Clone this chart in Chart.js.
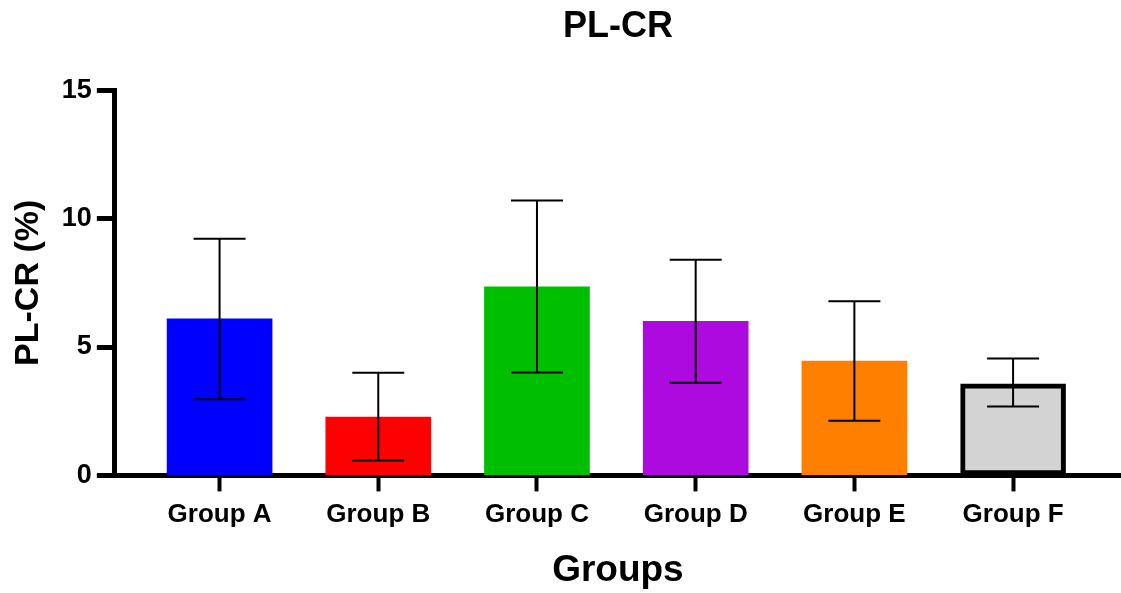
<!DOCTYPE html>
<html>
<head>
<meta charset="utf-8">
<script src="https://cdn.jsdelivr.net/npm/chart.js@4/dist/chart.umd.min.js"></script>
<style>
  body { margin: 0; background: #fff; }
  #wrap { width: 1121px; height: 593px; }
</style>
</head>
<body>
<div id="wrap"><canvas id="plcrChart"></canvas></div>
<script>
// values
const groups = ['Group A', 'Group B', 'Group C', 'Group D', 'Group E', 'Group F'];
const means = [6.10, 2.27, 7.34, 6.00, 4.45, 3.57];
const errHigh = [9.22, 4.00, 10.70, 8.40, 6.78, 4.55];
const errLow = [2.97, 0.58, 4.01, 3.61, 2.13, 2.68];
const yTicks = [0, 5, 10, 15];

const barColors = ['#0000FF', '#FF0000', '#00BE00', '#AD0ADF', '#FF8000', '#D3D3D3'];
const barBorders = [0, 0, 0, 0, 0, 5];

Chart.defaults.color = '#000';
Chart.defaults.font.family = '"Liberation Sans", Arial, sans-serif';
Chart.defaults.font.weight = 'bold';

// error bars with caps, drawn over the bars
const errorBars = {
  id: 'errorBars',
  afterDatasetsDraw(chart) {
    const ctx = chart.ctx;
    const xs = chart.scales.x;
    const ys = chart.scales.y;
    ctx.save();
    ctx.strokeStyle = '#000';
    ctx.lineWidth = 2;
    groups.forEach((g, i) => {
      const x = xs.getPixelForValue(i + 1);
      const yHi = ys.getPixelForValue(errHigh[i]);
      const yLo = ys.getPixelForValue(errLow[i]);
      const cap = 26;
      ctx.beginPath();
      ctx.moveTo(x, yHi);
      ctx.lineTo(x, yLo);
      ctx.moveTo(x - cap, yHi);
      ctx.lineTo(x + cap, yHi);
      ctx.moveTo(x - cap, yLo);
      ctx.lineTo(x + cap, yLo);
      ctx.stroke();
    });
    ctx.restore();
  }
};

const ctx = document.getElementById('plcrChart').getContext('2d');
const plcrChart = new Chart(ctx, {
  type: 'bar',
  data: {
    datasets: [{
      data: groups.map((g, i) => ({ x: i + 1, y: means[i] })),
      backgroundColor: barColors,
      borderColor: '#000',
      borderWidth: barBorders,
      borderSkipped: false,
      barThickness: 105
    }]
  },
  options: {
    responsive: true,
    maintainAspectRatio: false,
    animation: false,
    layout: { padding: { left: 8, right: 0, top: 0, bottom: 0 } },
    plugins: {
      legend: { display: false },
      tooltip: { enabled: false },
      title: {
        display: true,
        fullSize: false,
        text: 'PL-CR',
        font: { size: 36, weight: 'bold' },
        padding: { top: 5, bottom: 42 }
      }
    },
    scales: {
      x: {
        type: 'linear',
        min: 0.34,
        max: 6.68,
        offset: false,
        z: 1,
        grid: { display: true, offset: false, drawOnChartArea: false, drawTicks: true, tickLength: 16, tickWidth: 4, tickColor: '#000' },
        border: { display: true, color: '#000', width: 5 },
        afterBuildTicks: scale => { scale.ticks = groups.map((g, i) => ({ value: i + 1 })); },
        ticks: {
          font: { size: 26, weight: 'bold' },
          padding: 8,
          maxRotation: 0,
          autoSkip: false,
          callback: v => groups[v - 1]
        },
        title: {
          display: true,
          text: 'Groups',
          font: { size: 37, weight: 'bold' },
          padding: { top: 10, bottom: 0 }
        }
      },
      y: {
        min: 0,
        max: 15,
        z: 1,
        grid: { display: true, drawOnChartArea: false, drawTicks: true, tickLength: 18, tickWidth: 5, tickColor: '#000' },
        border: { display: true, color: '#000', width: 5 },
        afterBuildTicks: scale => { scale.ticks = yTicks.map(v => ({ value: v })); },
        ticks: {
          font: { size: 27, weight: 'bold' },
          padding: 5
        },
        title: {
          display: true,
          text: 'PL-CR (%)',
          font: { size: 34, weight: 'bold' },
          padding: { top: 0, bottom: 8 }
        }
      }
    }
  },
  plugins: [errorBars]
});
</script>
</body>
</html>
